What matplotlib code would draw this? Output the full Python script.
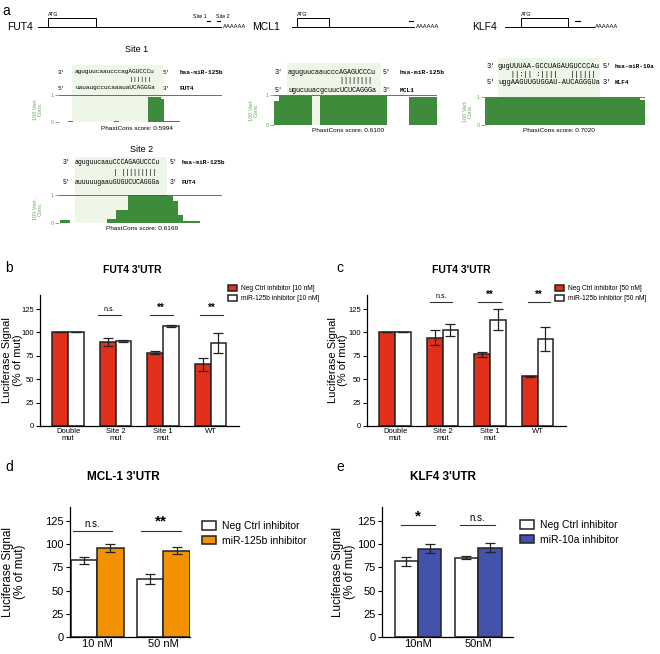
import numpy as np
import matplotlib
matplotlib.use('Agg')
import matplotlib.pyplot as plt

W, H = 660, 654
plt.rcParams['font.family'] = ['Liberation Sans', 'DejaVu Sans']

# ---------------- data ----------------
# panel b / c : FUT4 3'UTR luciferase (% of mut)
fut4_groups = ['Double\nmut', 'Site 2\nmut', 'Site 1\nmut', 'WT']
b_neg = [100, 89.6, 78.3, 65.9]
b_neg_err = [0, 4.1, 1.5, 6.7]
b_inh = [100, 90.7, 106.6, 88.9]
b_inh_err = [0, 1.0, 1.0, 10.6]
b_sig_x = [0.87, 1.96, 3.02]
b_sig_y = 118.6
b_sig_txt = ['n.s.', '**', '**']

c_neg = [100, 94.2, 76.5, 53.1]
c_neg_err = [0, 7.9, 2.5, 0.8]
c_inh = [100, 102.7, 113.7, 92.8]
c_inh_err = [0, 6.7, 10.9, 13.1]
c_sig_x = [0.97, 1.99, 3.03]
c_sig_y = 132
c_sig_txt = ['n.s.', '**', '**']

# panel d : MCL-1 3'UTR
dose_d = ['10 nM', '50 nM']
d_neg = [82.6, 62.1]
d_neg_err = [3.5, 5.4]
d_inh = [95.9, 93.0]
d_inh_err = [4.7, 3.6]
d_sig_x = [-0.07, 0.96]
d_sig_y = 114.2
d_sig_txt = ['n.s.', '**']

# panel e : KLF4 3'UTR
dose_e = ['10nM', '50nM']
e_neg = [81.5, 85.5]
e_neg_err = [4.8, 1.8]
e_inh = [95.2, 96.3]
e_inh_err = [4.5, 5.0]
e_sig_x = [0.0, 0.99]
e_sig_y = 120.3
e_sig_txt = ['*', 'n.s.']

# panel a : PhastCons conservation profiles (edges in % of window, height 0-1)
site1_edges = [0, 5.5, 8.5, 34, 37, 54.6, 62.6, 64.4, 74, 100]
site1_cons = [0, 0.04, 0, 0.02, 0, 0.92, 0.85, 0.03, 0]
site2_edges = [0, 0.6, 6.7, 29.4, 35.0, 42.3, 66.9, 69.9, 73.0, 76.1, 86.5, 100]
site2_cons = [0, 0.12, 0, 0.15, 0.45, 1.0, 0.95, 0.8, 0.27, 0.07, 0]
mcl1_edges = [0, 3.1, 23.3, 28.2, 69.3, 82.8, 100]
mcl1_cons = [0.8, 0.96, 0, 0.97, 0, 0.92]
klf4_edges = [0, 96.9, 100]
klf4_cons = [0.98, 0.9]
phastcons = ['0.5994', '0.6169', '0.6100', '0.7020']

# gene schematics (fraction of transcript)
fut4_cds = (0.054, 0.315)
fut4_sites = [(0.92, 0.935), (0.973, 0.99)]
mcl1_cds = (0.04, 0.30)
mcl1_sites = [(0.95, 0.98)]
klf4_cds = (0.18, 0.70)
klf4_sites = [(0.78, 0.83)]

RED = '#e0301c'
ORANGE = '#f39200'
BLUE = '#4352ab'
GREEN = '#3f8b3c'
LIGHT = '#eef6e8'
LGREEN = '#6aab5f'

fig = plt.figure(figsize=(6.6, 6.54), dpi=100)


def fx(x):
    return x / W


def fy(y):
    return 1 - y / H


def px_axes(l, t, r, b):
    return fig.add_axes([l / W, 1 - b / H, (r - l) / W, (b - t) / H])


# ---------------- panel a ----------------
fig.text(fx(2), fy(11), 'a', fontsize=10, va='center')


def gene(l, r, name, cds, sites, name_x, site_labels=None):
    ax = px_axes(l, 8, r, 30)
    ax.set_xlim(0, 1)
    ax.set_ylim(0, 1)
    ax.axis('off')
    ax.plot([0, 1], [0.14, 0.14], color='k', lw=0.7)
    ax.plot([cds[0], cds[0], cds[1], cds[1]], [0.14, 0.55, 0.55, 0.14], color='k', lw=0.7)
    ax.text(cds[0], 0.6, 'ATG', fontsize=3.8, va='bottom', ha='left')
    for s in sites:
        ax.plot(s, [0.4, 0.4], color='k', lw=0.8)
    if site_labels:
        for s, lab in zip(sites, site_labels):
            ax.text(s[0] - 0.005, 0.5, lab, fontsize=3.8, ha='right' if lab == 'Site 1' else 'left',
                    va='bottom')
    ax.text(1.005, 0.14, 'AAAAAA', fontsize=4.2, va='center', ha='left')
    fig.text(fx(name_x), fy(27), name, fontsize=7.5, ha='right', va='center')


gene(38, 222, 'FUT4', fut4_cds, fut4_sites, 33, ['Site 1', 'Site 2'])
gene(292, 415, 'MCL1', mcl1_cds, mcl1_sites, 280)
gene(505, 595, 'KLF4', klf4_cds, klf4_sites, 497)


def track(l, r, top_hl, top1, bot0, edges, cons, hl, lab_x, score, score_x):
    ax = px_axes(l, top_hl, r, bot0)
    ytop = (bot0 - top_hl) / (bot0 - top1)
    ax.set_xlim(0, 100)
    ax.set_ylim(0, ytop)
    ax.axvspan(hl[0], hl[1], color=LIGHT, zorder=0, lw=0)
    ax.stairs(cons, edges, fill=True, color=GREEN, zorder=2)
    ax.axhline(1, color='#555555', lw=0.6, zorder=3)
    ax.axhline(0, color='#555555', lw=0.6, zorder=3)
    for s in ax.spines.values():
        s.set_visible(False)
    ax.set_xticks([])
    ax.set_yticks([0, 1])
    ax.set_yticklabels(['0', '1'])
    ax.tick_params(axis='y', length=3, width=0.5, color='#777777', labelsize=4,
                   labelcolor=LGREEN, pad=1)
    fig.text(fx(lab_x), fy((top1 + bot0) / 2), '100 Vert.\nCons.', rotation=90,
             fontsize=4, color=LGREEN, ha='center', va='center', linespacing=1.0)
    fig.text(fx(score_x), fy(bot0 + 6), 'PhastCons score: ' + score, fontsize=4.6,
             ha='center', va='center')
    return ax


track(59, 222, 65, 95, 122, site1_edges, site1_cons, (8.0, 63.8), 38, phastcons[0], 137)
track(59, 222, 157, 195, 223, site2_edges, site2_cons, (9.8, 66.3), 38, phastcons[1], 142)
track(274, 437, 63, 95, 125, mcl1_edges, mcl1_cons, (8.0, 65.6), 254, phastcons[2], 348)
track(485, 645, 58, 97, 125, klf4_edges, klf4_cons, (8.1, 71.9), 468, phastcons[3], 559)

fig.text(fx(137), fy(50), 'Site 1', fontsize=6.5, ha='center', va='center')
fig.text(fx(142), fy(150), 'Site 2', fontsize=6.5, ha='center', va='center')


def duplex(x3, xs, x5, xn, ys, size, nsize, mir, bars, tgt, mirname, tname):
    mono = 'Liberation Mono'
    kw = dict(family=mono, va='center', ha='left')
    fig.text(fx(x3), fy(ys[0]), "3'", fontsize=size, **kw)
    fig.text(fx(xs), fy(ys[0]), mir, fontsize=size, **kw)
    fig.text(fx(x5), fy(ys[0]), "5'", fontsize=size, **kw)
    fig.text(fx(xn), fy(ys[0]), mirname, fontsize=nsize, fontweight='bold', **kw)
    fig.text(fx(xs), fy(ys[1]), bars, fontsize=size, **kw)
    fig.text(fx(x3), fy(ys[2]), "5'", fontsize=size, **kw)
    fig.text(fx(xs), fy(ys[2]), tgt, fontsize=size, **kw)
    fig.text(fx(x5), fy(ys[2]), "3'", fontsize=size, **kw)
    fig.text(fx(xn), fy(ys[2]), tname, fontsize=nsize, fontweight='bold', **kw)


duplex(58, 75, 163, 180, (72, 80, 88), 4.45, 4.4,
       'aguguucaaucccagAGUCCCu', '               ||||||', 'uauaugccucaaauaUCAGGGa',
       'hsa-miR-125b', 'FUT4')
duplex(63, 75, 170, 182, (163, 172, 182), 4.7, 4.4,
       'aguguucaauCCCAGAGUCCCu', '          | |||||||||', 'auuuuugaauGUGUCUCAGGGa',
       'hsa-miR-125b', 'FUT4')
duplex(275, 288, 383, 400, (72, 81, 90), 4.85, 4.5,
       'aguguucaaucccAGAGUCCCu', '             ||||||||', 'ugucuuacgcuucUCUCAGGGa',
       'hsa-miR-125b', 'MCL1')
duplex(487, 498, 603, 615, (67, 74, 82), 5.0, 4.3,
       'gugUUUAA-GCCUAGAUGUCCCAu', '   ||:|| :||||   ||||||', 'uggAAGUUGUGGAU-AUCAGGGUa',
       'hsa-miR-10a', 'KLF4')


# ---------------- bar panels ----------------
def bar_panel(rect, cats, v1, e1, c1, v2, e2, c2, width, xlim, sig_x, sig_y, sig_txt,
              sig_hw, small, big, ticksize, title, title_xy, title_size,
              leg_labels, leg_xy, leg_size, leg_space, ylab_x, ylab_size):
    ax = px_axes(*rect)
    x = np.arange(len(cats))
    b1 = ax.bar(x - width / 2, v1, width, color=c1, edgecolor='#222222', linewidth=1.1, zorder=2)
    b2 = ax.bar(x + width / 2, v2, width, color=c2, edgecolor='#222222', linewidth=1.1, zorder=2)
    ax.errorbar(x - width / 2, v1, yerr=e1, fmt='none', ecolor='#222222', elinewidth=0.9,
                capsize=3.5, capthick=0.9, zorder=3)
    ax.errorbar(x + width / 2, v2, yerr=e2, fmt='none', ecolor='#222222', elinewidth=0.9,
                capsize=3.5, capthick=0.9, zorder=3)
    ax.set_xlim(*xlim)
    ax.set_ylim(0, 140)
    ax.set_yticks([0, 25, 50, 75, 100, 125])
    ax.set_xticks(x)
    ax.set_xticklabels(cats, linespacing=1.0)
    ax.tick_params(labelsize=ticksize, length=3, width=0.8, pad=1.5)
    ax.tick_params(axis='x', length=0)
    for s in ['top', 'right']:
        ax.spines[s].set_visible(False)
    for s in ['left', 'bottom']:
        ax.spines[s].set_linewidth(0.9)
    for xs, t in zip(sig_x, sig_txt):
        ax.plot([xs - sig_hw, xs + sig_hw], [sig_y, sig_y], color='#333333', lw=0.8)
        ax.text(xs, sig_y + 2.5, t, ha='center', va='bottom',
                fontsize=small if t == 'n.s.' else big,
                fontweight='normal' if t == 'n.s.' else 'bold')
    fig.text(fx(title_xy[0]), fy(title_xy[1]), title, fontsize=title_size, fontweight='bold',
             ha='center', va='center', family=['Liberation Sans Narrow', 'Liberation Sans'])
    fig.text(fx(ylab_x), fy((rect[1] + rect[3]) / 2), 'Luciferase Signal\n(% of mut)',
             rotation=90, fontsize=ylab_size, ha='center', va='center', linespacing=1.05)
    ax.legend([b1, b2], leg_labels, loc='upper left', bbox_to_anchor=(fx(leg_xy[0]), fy(leg_xy[1])),
              bbox_transform=fig.transFigure, frameon=False, fontsize=leg_size,
              handlelength=1.3, handleheight=0.9, handletextpad=0.6, labelspacing=leg_space,
              borderpad=0, borderaxespad=0)
    return ax


fig.text(fx(5), fy(268), 'b', fontsize=10, va='center')
fig.text(fx(336), fy(268), 'c', fontsize=10, va='center')
fig.text(fx(5), fy(467), 'd', fontsize=10, va='center')
fig.text(fx(336), fy(467), 'e', fontsize=10, va='center')

bar_panel((40, 295, 239, 426), fut4_groups, b_neg, b_neg_err, RED, b_inh, b_inh_err, 'white',
          0.33, (-0.59, 3.6), b_sig_x, b_sig_y, b_sig_txt, 0.24, 5, 7, 5.5,
          "FUT4 3'UTR", (132, 270), 7.5,
          ['Neg Ctrl inhibitor [10 nM]', 'miR-125b inhibitor [10 nM]'], (228, 285), 4.8, 0.45,
          12.5, 8)
bar_panel((367, 295, 566, 426), fut4_groups, c_neg, c_neg_err, RED, c_inh, c_inh_err, 'white',
          0.33, (-0.59, 3.6), c_sig_x, c_sig_y, c_sig_txt, 0.24, 5, 7, 5.5,
          "FUT4 3'UTR", (461, 270), 7.5,
          ['Neg Ctrl inhibitor [50 nM]', 'miR-125b inhibitor [50 nM]'], (555, 285), 4.8, 0.45,
          338, 8)
bar_panel((70, 507, 190, 637), dose_d, d_neg, d_neg_err, 'white', d_inh, d_inh_err, ORANGE,
          0.4, (-0.41, 1.40), d_sig_x, d_sig_y, d_sig_txt, 0.3, 7, 11, 8,
          "MCL-1 3'UTR", (123, 477), 8.5,
          ['Neg Ctrl inhibitor', 'miR-125b inhibitor'], (202, 521), 7.5, 0.45,
          14, 8.5)
bar_panel((382, 507, 513, 637), dose_e, e_neg, e_neg_err, 'white', e_inh, e_inh_err, BLUE,
          0.39, (-0.6, 1.58), e_sig_x, e_sig_y, e_sig_txt, 0.29, 7, 11, 8,
          "KLF4 3'UTR", (443, 477), 8.5,
          ['Neg Ctrl inhibitor', 'miR-10a inhibitor'], (520, 520), 7.5, 0.45,
          344, 8.5)

fig.savefig('out.png', dpi=100)
